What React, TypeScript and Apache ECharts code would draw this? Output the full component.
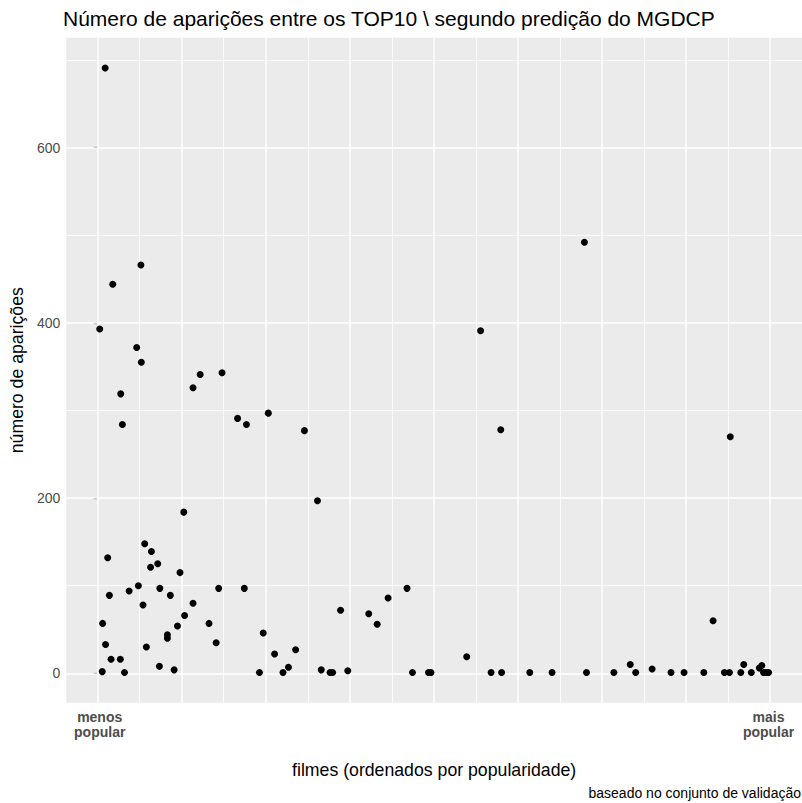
import React, { useEffect, useRef } from "react";
import * as echarts from "echarts";

// Filmes ordenados por popularidade (posição no ranking) e número de aparições no TOP10
const rankFilme = [
  5, 11, 12, 18, 19, 24, 28, 32, 36, 54, 55, 59, 64, 75, 93, 97, 103, 104, 108, 112,
  116, 126, 128, 143, 147, 148, 166, 166, 173, 182, 190, 196, 205, 207, 227, 227, 244, 265, 282, 288,
  296, 333, 349, 354, 385, 394, 406, 421, 441, 454, 471, 492, 523, 532, 553, 559, 578, 595, 645, 665,
  691, 736, 749, 787, 793, 878, 911, 936, 959, 961, 1028, 1081, 1158, 1163, 1228, 1267, 1280, 1319, 1364, 1395,
  1442, 1464, 1491, 1503, 1505, 1530, 1537, 1555, 1574, 1580, 1584, 1590, 1596,
];
const numAparicoes = [
  393, 2, 57, 691, 33, 132, 89, 16, 444, 16, 319, 284, 1, 94, 372, 100, 466, 355, 78, 148,
  30, 121, 139, 125, 8, 97, 44, 40, 89, 4, 54, 115, 184, 66, 326, 80, 341, 57, 35, 97,
  343, 291, 97, 284, 1, 46, 297, 22, 1, 7, 27, 277, 197, 4, 1, 1, 72, 3, 68, 56,
  86, 97, 1, 1, 1, 19, 391, 1, 278, 1, 1, 1, 492, 1, 1, 10, 1, 5, 1, 1,
  1, 60, 1, 1, 270, 1, 10, 1, 6, 9, 1, 1, 1,
];

// Rótulos e quebras dos eixos
const xEndLabels = ["menos\npopular", "mais\npopular"];
const xMajorBreaks = [0, 200, 400, 600, 800, 1000, 1200, 1400, 1600];
const xMinorBreaks = [100, 300, 500, 700, 900, 1100, 1300, 1500];
const yMajorBreaks = [0, 200, 400, 600];
const yMinorBreaks = [100, 300, 500, 700];

const FONT = "'Liberation Sans', Arial, Helvetica, sans-serif";

export default function App() {
  const ref = useRef<HTMLDivElement>(null);

  useEffect(() => {
    document.body.style.margin = "0";
    if (!ref.current) return;
    const chart = echarts.init(ref.current, null, { renderer: "svg" });

    const xMin = Math.min(...rankFilme);
    const xMax = Math.max(...rankFilme);
    const yMin = Math.min(...numAparicoes);
    const yMax = Math.max(...numAparicoes);
    const xPad = (xMax - xMin) * 0.05;
    const yPad = (yMax - yMin) * 0.05;

    const major = { color: "#FFFFFF", width: 1.5, type: "solid" as const };
    const minor = { color: "#FFFFFF", width: 0.8, type: "solid" as const };
    const gridLines = [
      ...xMinorBreaks.map((v) => ({ xAxis: v, lineStyle: minor })),
      ...yMinorBreaks.map((v) => ({ yAxis: v, lineStyle: minor })),
      ...xMajorBreaks.map((v) => ({ xAxis: v, lineStyle: major })),
      ...yMajorBreaks.map((v) => ({ yAxis: v, lineStyle: major })),
    ];

    chart.setOption({
      animation: false,
      backgroundColor: "#FFFFFF",
      textStyle: { fontFamily: FONT },
      title: [
        {
          text: "Número de aparições entre os TOP10 \\ segundo predição do MGDCP",
          left: 63,
          top: 8,
          padding: 0,
          textStyle: { fontFamily: FONT, fontSize: 21, fontWeight: "normal", color: "#000000" },
        },
        {
          text: "baseado no conjunto de validação",
          right: 1,
          bottom: 3,
          padding: 0,
          textStyle: { fontFamily: FONT, fontSize: 14, fontWeight: "normal", color: "#000000" },
        },
      ],
      grid: {
        left: 63,
        right: 0,
        top: 37.7,
        bottom: 100.3,
        show: true,
        backgroundColor: "#EBEBEB",
        borderWidth: 0,
      },
      xAxis: {
        type: "value",
        min: xMin - xPad,
        max: xMax + xPad,
        name: "filmes (ordenados por popularidade)",
        nameLocation: "middle",
        nameGap: 58,
        nameTextStyle: { fontFamily: FONT, fontSize: 17.7, color: "#000000" },
        axisLine: { show: false },
        axisTick: { show: false },
        splitLine: { show: false },
        axisLabel: {
          customValues: [xMin, xMax],
          formatter: (v: number) => (v === xMin ? xEndLabels[0] : xEndLabels[1]),
          fontFamily: FONT,
          fontWeight: "bold",
          fontSize: 14,
          lineHeight: 15,
          color: "#4D4D4D",
          margin: 7,
        },
      },
      yAxis: {
        type: "value",
        min: yMin - yPad,
        max: yMax + yPad,
        name: "número de aparições",
        nameLocation: "middle",
        nameGap: 36,
        nameRotate: 90,
        nameTextStyle: { fontFamily: FONT, fontSize: 17.7, color: "#000000" },
        axisLine: { show: false },
        axisTick: {
          show: true,
          customValues: yMajorBreaks,
          length: 4,
          lineStyle: { color: "#333333", width: 1.2 },
        },
        splitLine: { show: false },
        axisLabel: {
          customValues: yMajorBreaks,
          fontFamily: FONT,
          fontSize: 14,
          color: "#4D4D4D",
          margin: 6,
        },
      },
      series: [
        {
          type: "scatter",
          data: rankFilme.map((x, i) => [x, numAparicoes[i]]),
          symbol: "circle",
          symbolSize: 7,
          itemStyle: { color: "#000000", opacity: 1 },
          z: 3,
          silent: true,
          markLine: {
            silent: true,
            z: 1,
            symbol: ["none", "none"],
            label: { show: false },
            emphasis: { disabled: true },
            data: gridLines,
          },
        },
      ],
    });

    return () => chart.dispose();
  }, []);

  return <div ref={ref} style={{ width: 802, height: 803 }} />;
}
